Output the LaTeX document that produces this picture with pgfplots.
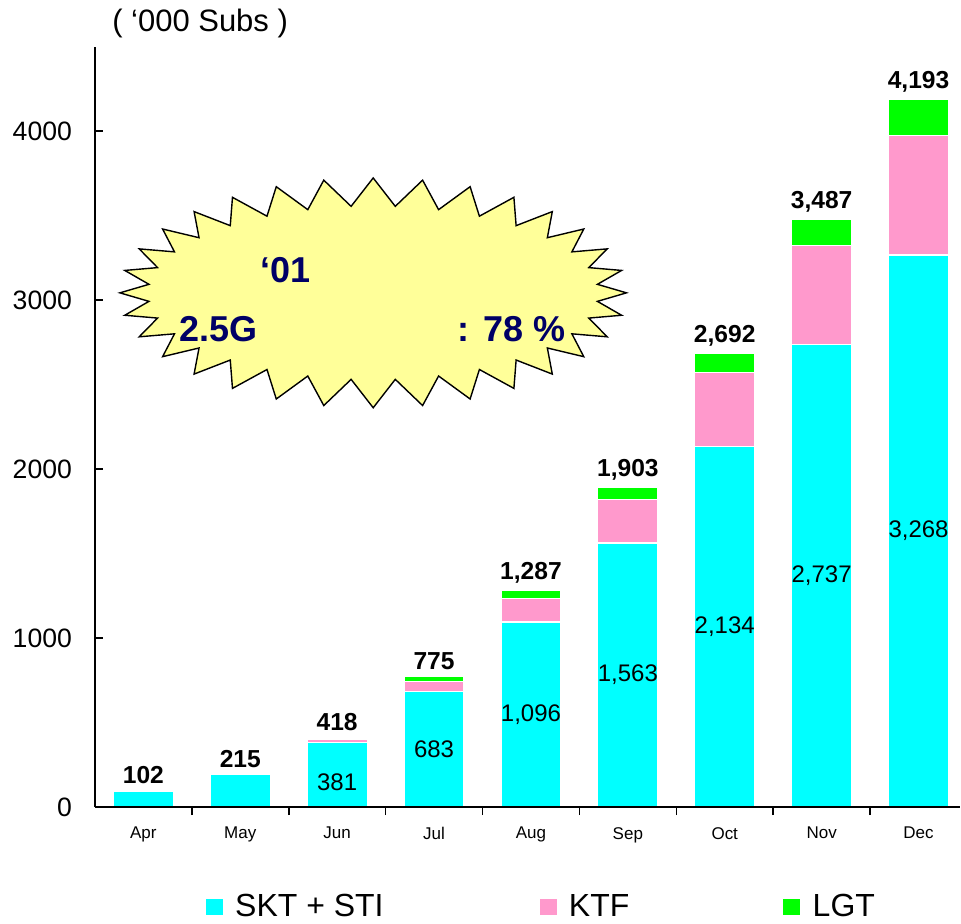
\documentclass[border=0pt]{standalone}
\usepackage{fontspec}
\setmainfont{Liberation Sans}
\usepackage{pgfplots}
\pgfplotsset{compat=1.18}
\usetikzlibrary{shapes.symbols}
\definecolor{skt}{RGB}{0,255,255}
\definecolor{ktf}{RGB}{255,153,204}
\definecolor{lgt}{RGB}{0,255,0}
\definecolor{burst}{RGB}{255,255,153}
\definecolor{navy}{RGB}{0,0,102}

\begin{document}
\begin{tikzpicture}
\begin{axis}[name=ax,
  scale only axis, width=433pt, height=380.5pt,
  ybar stacked, bar width=0.62,
  xmin=-0.5, xmax=8.43, ymin=0, ymax=4500,
  axis x line*=bottom, axis y line*=left,
  axis line style={line width=0.8pt, black},
  tick align=inside, major tick length=4pt,
  tick style={black, line width=0.8pt},
  xtick={0,1,...,8},
  xticklabels={Apr,May,Jun,Jul,Aug,Sep,Oct,Nov,Dec},
  xtick style={draw=none},
  xticklabel style={font=\fontsize{8.5}{10}\selectfont, yshift=-6.5pt},
  ytick={0,1000,2000,3000,4000},
  yticklabel style={font=\fontsize{13.3}{15}\selectfont, xshift=-8pt},
  /pgf/number format/assume math mode=true,
  /pgf/number format/1000 sep={},
  clip=false,
]
\addplot[fill=skt, draw=white, line width=0.6pt] coordinates
  {(0,95) (1,192) (2,381) (3,683) (4,1096) (5,1563) (6,2134) (7,2737) (8,3268)};
\addplot[fill=ktf, draw=white, line width=0.6pt] coordinates
  {(0,0) (1,0) (2,22) (3,62) (4,137) (5,258) (6,436) (7,588) (8,708)};
\addplot[fill=lgt, draw=white, line width=0.6pt] coordinates
  {(0,0) (1,0) (2,5) (3,26) (4,49) (5,72) (6,113) (7,153) (8,212)};

\coordinate (s2) at (axis cs:2,145);
\coordinate (s3) at (axis cs:3,341);
\coordinate (s4) at (axis cs:4,548);
\coordinate (s5) at (axis cs:5,781);
\coordinate (s6) at (axis cs:6,1067);
\coordinate (s7) at (axis cs:7,1368);
\coordinate (s8) at (axis cs:8,1634);
\node[anchor=south, font=\bfseries\fontsize{12.3}{14}\selectfont] at (axis cs:0,95) {102};
\node[anchor=south, font=\bfseries\fontsize{12.3}{14}\selectfont] at (axis cs:1,192) {215};
\node[anchor=south, font=\bfseries\fontsize{12.3}{14}\selectfont] at (axis cs:2,408) {418};
\node[anchor=south, font=\bfseries\fontsize{12.3}{14}\selectfont] at (axis cs:3,771) {775};
\node[anchor=south, font=\bfseries\fontsize{12.3}{14}\selectfont] at (axis cs:4,1282) {1,287};
\node[anchor=south, font=\bfseries\fontsize{12.3}{14}\selectfont] at (axis cs:5,1893) {1,903};
\node[anchor=south, font=\bfseries\fontsize{12.3}{14}\selectfont] at (axis cs:6,2683) {2,692};
\node[anchor=south, font=\bfseries\fontsize{12.3}{14}\selectfont] at (axis cs:7,3478) {3,487};
\node[anchor=south, font=\bfseries\fontsize{12.3}{14}\selectfont] at (axis cs:8,4188) {4,193};
\end{axis}
% boundary ticks on the category axis
\begin{axis}[
  scale only axis, width=433pt, height=380.5pt,
  at={(ax.south west)}, anchor=south west,
  xmin=-0.5, xmax=8.43, ymin=0, ymax=4500,
  axis x line*=bottom, axis y line=none,
  axis line style={line width=0.8pt, black},
  xtick={0.5,1.5,...,7.5}, xticklabels={}, ytick=\empty,
  tick align=outside, major tick length=4pt,
  tick style={black, line width=0.8pt},
]
\end{axis}
\begin{scope}[font=\fontsize{12}{14}\selectfont]
\node at (s2) {381};
\node at (s3) {683};
\node at (s4) {1,096};
\node at (s5) {1,563};
\node at (s6) {2,134};
\node at (s7) {2,737};
\node at (s8) {3,268};
\end{scope}
\node[starburst, starburst points=32, starburst point height=14pt, random starburst=0,
  fill=burst, draw=black, line width=0.7pt, minimum width=253.5pt, minimum height=115pt, inner sep=0pt]
  at ([xshift=139.25pt,yshift=257.35pt]ax.south west) {};
\node[font=\bfseries\fontsize{18}{21}\selectfont, text=navy] at ([xshift=95.5pt,yshift=268.85pt]ax.south west) {‘01};
\node[font=\bfseries\fontsize{18}{21}\selectfont, text=navy] at ([xshift=62pt,yshift=239.1pt]ax.south west) {2.5G};
\node[font=\bfseries\fontsize{18}{21}\selectfont, text=navy] at ([xshift=208.5pt,yshift=239.1pt]ax.south west) {: 78 \%};
\node[anchor=west, inner sep=0pt, font=\fontsize{15.5}{18}\selectfont]
  at ([xshift=8.5pt,yshift=392.35pt]ax.south west) {( ‘000 Subs )};
% legend
\fill[skt] ([xshift=55.5pt,yshift=-54pt]ax.south west) rectangle ([xshift=64pt,yshift=-46pt]ax.south west);
\fill[ktf] ([xshift=222.5pt,yshift=-54pt]ax.south west) rectangle ([xshift=231pt,yshift=-46pt]ax.south west);
\fill[lgt] ([xshift=344.5pt,yshift=-54pt]ax.south west) rectangle ([xshift=353pt,yshift=-46pt]ax.south west);
\begin{scope}[font=\fontsize{16}{18}\selectfont]
\node[anchor=base west, inner sep=0pt] at ([xshift=70pt,yshift=-54.5pt]ax.south west) {SKT + STI};
\node[anchor=base west, inner sep=0pt] at ([xshift=237pt,yshift=-54.5pt]ax.south west) {KTF};
\node[anchor=base west, inner sep=0pt] at ([xshift=359pt,yshift=-54.5pt]ax.south west) {LGT};
\end{scope}
\path ([xshift=-47.5pt,yshift=-58.2pt]ax.south west) rectangle ([yshift=23.4pt]ax.north east);
\end{tikzpicture}
\end{document}
